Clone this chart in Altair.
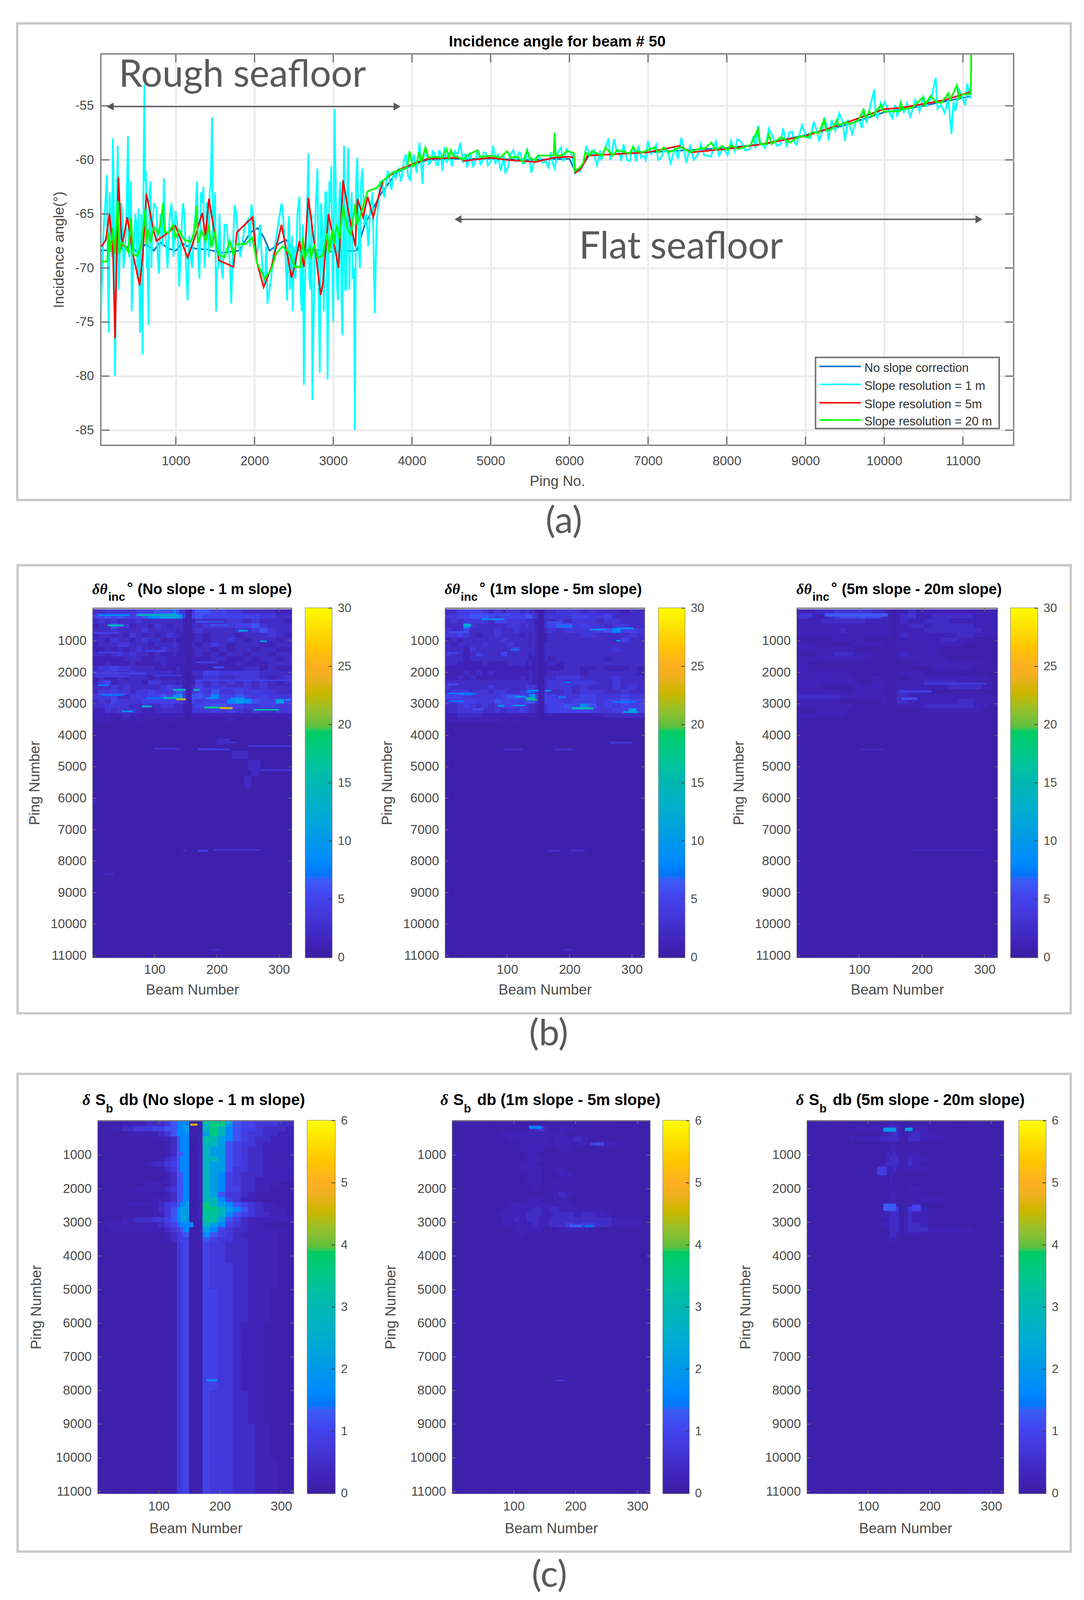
"""Slope correction comparison: incidence angle trace and difference maps."""

import altair as alt
import pandas as pd

FONT = "Liberation Sans"
NOTE_FONT = "Lato"
TEXT = "#4a4a4a"
NOTE = "#595959"
AXIS_LINE = "#6e6e6e"

# ---- panel (a): incidence angle
BLUE_PING = [50, 200, 270, 330, 350, 420, 500, 620, 720, 800, 900, 1000, 1080, 1150, 1250, 1400, 1600, 1800, 1950, 2040, 2120, 2190, 2320, 2400, 2500, 2700, 3000, 3300, 3400, 3600, 3800, 4000, 4200, 4600, 5000, 5500, 6000, 6070, 6150, 6250, 7000, 8000, 8500, 9000, 9500, 10000, 10500, 11100]
BLUE_VAL = [-68.4, -68.3, -67.6, -68.4, -68.3, -67.8, -68.5, -67.8, -68.4, -67.6, -68.2, -68.4, -67.7, -68, -68.2, -68.3, -68.6, -68.4, -66.7, -66.3, -67.2, -68.4, -67.7, -67.4, -68.4, -68.3, -68.5, -68.4, -66, -63.2, -61.2, -60.5, -60, -59.9, -59.9, -60, -59.9, -61, -60.7, -59.6, -59.3, -58.9, -58.5, -57.7, -56.8, -55.6, -55, -54.1]

CYAN_PING = [50, 85, 125, 148, 175, 200, 228, 245, 262, 290, 320, 350, 392, 415, 440, 470, 500, 525, 545, 577, 590, 602, 620, 640, 654, 680, 700, 753, 787, 820, 848, 870, 920, 995, 1043, 1075, 1110, 1150, 1190, 1230, 1270, 1300, 1340, 1350, 1380, 1405, 1430, 1460, 1485, 1511, 1540, 1570, 1620, 1670, 1704, 1747, 1790, 1850, 1920, 1960, 2000, 2045, 2100, 2130, 2164, 2210, 2260, 2343, 2380, 2414, 2440, 2465, 2485, 2520, 2570, 2600, 2627, 2655, 2684, 2710, 2735, 2770, 2800, 2829, 2860, 2900, 2928, 2950, 2975, 3000, 3016, 3040, 3061, 3090, 3115, 3138, 3165, 3190, 3220, 3250, 3275, 3306, 3340, 3370, 3420, 3470, 3527, 3578, 3620, 3692, 3741, 3768, 3795, 3862, 3924, 3978, 4024, 4096, 4134, 4171, 4212, 4266, 4306, 4346, 4387, 4414, 4508, 4548, 4616, 4702, 4737, 4777, 4831, 4871, 4912, 4965, 5033, 5060, 5127, 5167, 5186, 5221, 5288, 5356, 5409, 5463, 5517, 5571, 5665, 5738, 5786, 5813, 5894, 5921, 5961, 6015, 6069, 6136, 6176, 6217, 6257, 6311, 6351, 6392, 6405, 6499, 6540, 6567, 6634, 6661, 6688, 6769, 6809, 6849, 6876, 6943, 6997, 7037, 7105, 7126, 7199, 7288, 7422, 7487, 7535, 7616, 7670, 7713, 7800, 7861, 8009, 8055, 8135, 8237, 8340, 8363, 8397, 8443, 8534, 8636, 8716, 8762, 8830, 8887, 8956, 9013, 9104, 9172, 9236, 9293, 9332, 9428, 9503, 9537, 9594, 9719, 9742, 9776, 9874, 9913, 9959, 10004, 10102, 10164, 10210, 10330, 10392, 10449, 10495, 10654, 10677, 10768, 10814, 10855, 10905, 10951, 11030, 11053, 11099]
CYAN_VAL = [-74, -66, -61.4, -76, -66, -58, -80, -67, -58.7, -68, -65, -69, -57.8, -67, -74, -68, -66, -64.5, -76, -78, -61, -53, -61, -69, -75.3, -62, -66, -64.5, -70.5, -66, -61.7, -67, -65.5, -64.7, -71.7, -66, -65, -73, -69, -66.5, -62, -71, -64, -62.5, -68, -64, -63, -56.1, -66, -74, -70, -69.2, -66, -68, -73.3, -64.2, -67, -67.5, -65.5, -64.1, -66, -68, -70, -71.5, -73.3, -71, -68, -64, -67, -73, -65.2, -70, -74, -71, -63.4, -74, -80.8, -68, -59.4, -72, -82.2, -66, -60.8, -79.7, -66, -63, -80.3, -62, -60.6, -75, -55.3, -68, -73, -62, -76.2, -58.7, -72, -58.9, -65, -71, -85, -59.8, -70, -60.8, -65, -64.5, -74.2, -63.5, -62, -61, -62.75, -61, -61.7, -62, -59.5, -61.85, -59.5, -58.4, -62.2, -58.85, -60.4, -59.2, -60.4, -59.1, -61, -58.8, -60.6, -59.2, -58.4, -60.7, -59.3, -60.6, -59.2, -60.4, -59.3, -60.5, -58.7, -60.4, -61, -59.6, -61.25, -60.65, -59.1, -59.3, -60.35, -59.1, -61.2, -59.8, -60.3, -60.8, -60.2, -60.8, -58.85, -60.05, -59, -59.3, -61.25, -61.1, -60.3, -58.7, -59.6, -59, -60.5, -59.1, -60.05, -58, -59.45, -58.1, -59.3, -60.1, -58.55, -60.1, -58.8, -60.15, -58.65, -59.6, -58.25, -59.45, -58.6, -60, -59.1, -60.3, -57.95, -60.3, -58.6, -59.7, -58.55, -59.55, -59.7, -58.3, -59.55, -58.25, -58.1, -59.15, -57.8, -58.95, -56.85, -58.55, -57.1, -58.7, -57.1, -58.85, -57.4, -58.6, -56.8, -57.9, -56.55, -58.2, -56.1, -58.2, -56.3, -55.7, -58.25, -56.3, -57.6, -57.05, -55.3, -56.6, -53.5, -56.1, -54.75, -54.65, -56.15, -56, -54.65, -56, -54.45, -55.5, -54.15, -52.4, -55.25, -55.65, -54.4, -57.6, -55.5, -53.5, -54.95, -52.95, -54.35]
# the smaller swings that fill the cyan band between the big spikes
CYAN_FILL_PING = [70, 105, 135, 160, 190, 215, 275, 305, 335, 370, 405, 430, 455, 485, 515, 560, 610, 630, 665, 690, 725, 770, 805, 835, 860, 895, 945, 970, 1020, 1060, 1090, 1130, 1170, 1210, 1250, 1285, 1320, 1365, 1395, 1420, 1445, 1470, 1500, 1525, 1555, 1595, 1645, 1690, 1725, 1770, 1820, 1880, 1940, 1980, 2020, 2070, 2115, 2150, 2190, 2235, 2300, 2360, 2400, 2430, 2450, 2475, 2500, 2545, 2585, 2615, 2640, 2670, 2695, 2725, 2755, 2785, 2815, 2845, 2880, 2915, 2940, 2965, 2990, 3030, 3050, 3075, 3105, 3130, 3150, 3180, 3205, 3235, 3262, 3290, 3325, 3355, 3395, 3445, 3500, 3550, 3600, 3650, 3830, 3900, 3950, 4000, 4060, 4150, 4240, 4290, 4330, 4370, 4440, 4470, 4580, 4650, 4680, 4800, 4850, 4890, 4940, 5000, 5090, 5150, 5250, 5320, 5380, 5440, 5490, 5540, 5610, 5700, 5760, 5850, 5940, 5990, 6040, 6100, 6290, 6330, 6450, 6520, 6600, 6730, 6790, 6910, 6970, 7070, 7160, 7250, 7340, 7380, 7460, 7580, 7650, 7740, 7830, 7900, 7960, 8100, 8180, 8290, 8420, 8490, 8580, 8680, 8790, 8860, 8990, 9060, 9140, 9200, 9270, 9380, 9470, 9650, 9690, 9830, 9890, 9980, 10050, 10140, 10250, 10290, 10360, 10420, 10540, 10600, 10720, 10880]
CYAN_FILL_VAL = [-69, -64, -70, -63, -69, -65, -72, -64, -70, -66, -69, -62, -70, -65, -71, -65, -62, -70, -63, -70, -64, -69, -65, -68, -66, -70, -64, -69, -66, -69, -64, -70, -67, -70, -65, -69, -63, -70, -64, -69, -62, -68, -63, -70, -65, -71, -66, -70, -68, -65, -69, -66, -68, -65, -69, -66, -71, -68, -72, -69, -66, -65, -70, -66, -72, -67, -68, -65, -72, -66, -72, -64, -71, -65, -73, -63, -72, -64, -74, -63, -72, -64, -71, -62, -72, -64, -73, -63, -72, -62, -72, -63, -70, -62, -68, -62, -66, -68, -63, -66, -62, -63.5, -60.9, -60, -61.5, -60.3, -61.2, -59.6, -60.2, -59.4, -60.5, -59.5, -60.3, -59.3, -59.5, -60.3, -59.4, -60.3, -59.5, -60.2, -59.4, -60.2, -59.4, -60.3, -59.5, -60.2, -59.4, -60.3, -59.5, -60.5, -59.7, -60.1, -59.3, -59.4, -60, -59.2, -59.7, -61, -59.4, -60, -59, -60, -59.1, -60, -59.2, -59.8, -60, -59.2, -59.9, -59.3, -58.9, -59.9, -59.2, -60, -59.2, -59.6, -58.9, -59.6, -58.9, -59.2, -58.3, -59, -58.2, -58.9, -57.8, -58.6, -57.5, -58.4, -57.4, -58, -57.2, -57.8, -56.8, -57.3, -56.4, -56.2, -56.5, -54.8, -55.7, -55.2, -55.3, -54.9, -55.6, -54.8, -55.4, -54.8, -55, -54.2, -54.9, -54.6]

RED_PING = [57, 110, 157, 200, 228, 270, 315, 384, 455, 540, 582, 625, 710, 753, 910, 995, 1150, 1250, 1335, 1377, 1420, 1520, 1548, 1733, 1775, 1974, 2031, 2116, 2215, 2343, 2471, 2514, 2570, 2627, 2684, 2798, 2840, 2869, 2940, 3068, 3124, 3195, 3280, 3309, 3380, 3437, 3508, 3578, 3635, 3806, 4000, 4200, 4600, 4660, 5000, 5200, 5400, 5570, 5800, 6000, 6060, 6074, 6136, 6180, 6230, 6500, 7000, 7400, 7550, 8000, 8397, 9000, 9500, 10000, 10200, 10600, 10800, 11100]
RED_VAL = [-68, -67.4, -65, -68.2, -76.5, -61.6, -68, -65.3, -68.7, -71.6, -68.7, -63.1, -66.3, -67.5, -66.7, -66.1, -69.05, -67, -64.9, -67, -63.6, -68, -69.3, -69.9, -66.7, -65.3, -69.5, -71.8, -69.9, -66, -70.9, -69.7, -67.5, -69.9, -63.5, -69.9, -72.5, -71.4, -65, -70, -61.9, -64.9, -68, -63.6, -65.3, -63.4, -65.3, -63.3, -61.9, -61, -60.4, -59.9, -59.8, -60.1, -59.8, -60, -60.1, -60.2, -59.8, -59.7, -59.8, -61.2, -60.9, -60.4, -59.6, -59.5, -59.3, -58.7, -59.3, -59, -58.6, -57.8, -56.6, -55.3, -55.2, -54.7, -54.4, -53.7]

GREEN_PING = [57, 128, 150, 171, 200, 225, 262, 284, 310, 350, 395, 420, 432, 455, 511, 555, 590, 611, 625, 650, 680, 720, 775, 810, 838, 855, 910, 965, 995, 1040, 1108, 1190, 1240, 1264, 1280, 1330, 1380, 1420, 1450, 1500, 1520, 1545, 1619, 1685, 1735, 1765, 1880, 1974, 2030, 2130, 2215, 2272, 2357, 2440, 2514, 2585, 2612, 2640, 2700, 2720, 2760, 2800, 2870, 2920, 2950, 2985, 3010, 3040, 3080, 3124, 3180, 3225, 3280, 3300, 3350, 3437, 3550, 3606, 3749, 3862, 3940, 3970, 4010, 4060, 4091, 4118, 4171, 4212, 4300, 4380, 4440, 4470, 4494, 4530, 4575, 4656, 4700, 4831, 4871, 5000, 5060, 5120, 5208, 5250, 5340, 5409, 5463, 5490, 5571, 5598, 5700, 5800, 5813, 5826, 5900, 5975, 6055, 6074, 6136, 6176, 6203, 6257, 6284, 6419, 6459, 6553, 6608, 6769, 6809, 6849, 6930, 7078, 7132, 7199, 7266, 7414, 7535, 7670, 7713, 7804, 7861, 7941, 8009, 8055, 8146, 8306, 8397, 8420, 8500, 8534, 8568, 8625, 8693, 8807, 8876, 8956, 9035, 9081, 9172, 9236, 9263, 9343, 9400, 9423, 9514, 9571, 9674, 9738, 9765, 9811, 9845, 9959, 9993, 10085, 10198, 10210, 10244, 10358, 10495, 10517, 10590, 10654, 10723, 10814, 10837, 10923, 10951, 10996, 11088, 11100, 11106]
GREEN_VAL = [-69.4, -69.4, -66.8, -68.5, -66.3, -68.7, -63.8, -68.7, -67.6, -68, -68.5, -66.5, -65.4, -68.7, -68.9, -68, -66.2, -64.6, -67.8, -66.5, -67.6, -66.2, -66.8, -65.8, -64, -66.7, -66.7, -66, -67.2, -66.5, -67.4, -67.6, -66.5, -64.3, -67.7, -66.6, -67.5, -66, -68.1, -66.6, -68, -68.8, -69, -67.5, -68.8, -67.8, -67.8, -67.2, -69.5, -71, -70.1, -68.7, -68, -68.6, -69.9, -69.9, -67.2, -69.1, -68.1, -69.1, -67.8, -69.1, -68.8, -66.8, -68.6, -66.5, -67.8, -66, -67.3, -64.3, -66.4, -66.9, -64.1, -66, -65, -62.9, -62.6, -62.1, -61.2, -60.9, -60.7, -59.2, -60.6, -60.3, -59.3, -60.2, -58.85, -59.8, -59.7, -59.8, -59, -59.8, -59.1, -59.7, -59.7, -60, -59.6, -59.1, -59.75, -59.6, -59.7, -59.8, -59.2, -59.8, -59.7, -60.2, -59.1, -59.8, -60.05, -59.6, -59.6, -59.6, -57.5, -59.6, -59.6, -59.2, -59.35, -61, -60.7, -60.3, -59.3, -59.6, -59.2, -59.6, -58.85, -59.6, -59.1, -59.4, -58.8, -59.2, -59.3, -58.85, -59.3, -58.85, -59.3, -58.8, -59.3, -58.9, -59, -58.4, -59.1, -58.7, -59.1, -58.65, -59, -58.6, -57.15, -58.55, -58.55, -57.65, -58.55, -58.25, -57.9, -58.4, -58, -57.8, -57.9, -57.45, -57.5, -56.3, -57.3, -57.1, -56.3, -56.8, -56.5, -56.7, -56.3, -55.35, -56.1, -55.5, -56, -54.9, -55.55, -55.5, -55.5, -54.75, -55.35, -55.15, -54.2, -54.9, -54.1, -54.6, -54.75, -53.85, -54.45, -53.1, -54.35, -53.95, -53.9, -53.9, -50.25]

PING_TICKS = [1000, 2000, 3000, 4000, 5000, 6000, 7000, 8000, 9000, 10000, 11000]
ANGLE_TICKS = [-55, -60, -65, -70, -75, -80, -85]
LEGEND_LABELS = ["No slope correction", "Slope resolution = 1 m", "Slope resolution = 5m", "Slope resolution = 20 m"]
LEGEND_COLORS = ["#0072BD", "#00FFFF", "#FF0000", "#00FF00"]

# ---- panels (b) and (c): difference maps, coarse reading of the picture.
# Each character is one cell, its code indexes CELL_LEVELS (deg scale, dB is 1/5 of it).
ROW_PINGS = [0, 150, 300, 450, 600, 750, 900, 1050, 1200, 1350, 1500, 1650, 1800, 1950, 2100, 2250, 2400, 2550, 2700, 2850, 3000, 3150, 3300, 3450, 3600, 4200, 5000, 6000, 7000, 8000, 9000, 10000, 11060]
B_BEAM_EDGES = [1, 10, 20, 30, 40, 50, 60, 70, 80, 90, 100, 110, 120, 130, 135, 140, 145, 150, 155, 160, 165, 178, 191, 204, 217, 230, 243, 256, 269, 282, 295, 308, 320]
C_BEAM_EDGES = [1, 10, 20, 30, 40, 50, 60, 70, 80, 90, 100, 110, 120, 130, 135, 140, 145, 150, 157, 165, 172, 184, 197, 209, 221, 234, 246, 258, 271, 283, 295, 308, 320]
CELL_LEVELS = [0.4, 1.0, 2.2, 3.5, 4.6, 6, 8, 10.5, 14, 18, 21, 25]
EMPTY_ROWS = ["0" * 32] * 8

B1_ROWS = [
    "22333334445556533103554433222211", "44545444566777764104544444443322", "23232223222222221001222233232221",
    "12253312213212221002233334453222", "22232222322222121002322223235322", "12212132121232211001212221222321",
    "22132212322112111001212232122212", "12223322212223211002123212221122", "11212123221322211001221212212211",
    "22123232212112111001212122122122", "11111222112211111001112211212212", "11211121111211111001111112111222",
    "23343322221111211001111111221211", "32332232222221211002244333332222", "12112122212111111001233223332123",
    "13412222133222121001323232323212", "22232322222343331012423322323222", "23343323343334553013435334343322",
    "33342234344546674115546445434333", "23243333444444332104344467654474", "22333322322332221003445544334433",
    "11323232112222221003334343232233", "11111211111111111001111111111111", "01100101010010000000000010000000",
] + EMPTY_ROWS
B2_ROWS = [
    "22334432323323221002233323222122", "33445554344445532003333443342222", "23233332443332221002232333233222",
    "22263222223323221003455343323322", "32242222322322221002323333456443", "33432122322212121001222233222232",
    "12122222232222121001222222222422", "21222232223222121002222222222222", "22213222222422221002222222223222",
    "32212322242222121002222222222222", "22212222222222111002122222212222", "22111121112221211001212222222222",
    "11111111111111111001112211211121", "11121212111111211001222212222221", "11212111111121211002233322223222",
    "22222222222222211002332333223222", "32222223222223332012333232223232", "23332332332233342013223233322322",
    "44433333345544674014433344333433", "33444333544445553104443444344544", "22343232344333221003445465343444",
    "22333322323343221003444444334474", "11222211111111111001111111122222", "11111111100100000000000000000000",
] + EMPTY_ROWS
B3_ROWS = [
    "11122233333322211001121111111111", "23111234445444211001231122222111", "11112222222111111001211222111111",
    "11111111111111111001122122222111", "11111112111111111001111222222211", "11111111111111111001211111122111",
    "00000011111000000001111112211000", "11100000011111100001111111110000", "11111111100000100001111110000000",
    "00011122211100000001211110000000", "11111111111100000000111111000000", "11000000000000000000001111111100",
    "11000000000000000000000011111000", "11111111000000000000111000000000", "11111111100011000000011111111110",
    "11111111110011110001111222211000", "11110000011111100001111111222210", "11111111011111100002211000000000",
    "22222221111111110002211111111110", "11111110000000110002211111122111", "11111111100000000001111222222110",
    "00011111000000000000000111111100", "11111111000000000000000000000000", "00000000000000000000000000000000",
] + EMPTY_ROWS
C1_ROWS = [
    "00001111222356666000899754433322", "00112233344556677000898654432221", "00000111112356666100798654332211",
    "00000000011125666001887654322111", "00000000000125666001887543321111", "00000000000125666001877543221111",
    "00000000000125566001877543221111", "00000000001235666001887543221111", "00000000122345666001877543221111",
    "00000000001235666001877533221111", "00000000000125566001876432221111", "00000000000125566001876432211111",
    "00000000111125566001876432211100", "00000011111235566001876442211000", "00000000000125566001875332100000",
    "00000000011125566001886431100000", "00000111112345667001987654321100", "00000000012356777001998765321110",
    "00000000011356777001998654322110", "00001122233456777001987542111111", "01111111112345666601876432110000",
    "00111111111234566001764322111110", "00000000000123455000654321111100", "00000000000123444000543322111100",
    "00000000000003344000433222111100", "00000000000003344000433322111100", "00000000000003344000443322111000",
    "00000000000003344000443321110000", "00000000000003344000443321110000", "00000000000003344000433322110000",
    "00000000000003344000433322211000", "00000000000003344000433322211100",
]
C2_ROWS = [
    "00000000000000000000000000000000", "00000000000011233100110000000000", "00000000111111111111100000000000",
    "00000000011111111101112100000000", "00000000000111111111111112110000", "00000000000111111000110000000000",
    "00000000000011100000000000000000", "00000000000011111000000000000000", "00000000000111100000000000000000",
    "00000000000111110001100000000000", "00000000000011110000110000000000", "00000000000011110000000000000000",
    "00000000000001110001100000000000", "00000000000000100001000000000000", "00000000000000000001210000000000",
    "00000000000011110001100000000000", "00000000011111111111110000000000", "00000000111112221122111111000000",
    "00000001111122221112221221100000", "00000000112122211122222222211110", "00000000111112211122232332211110",
    "00000000001111110000111100000000", "00000000000100000000000000000000", "00000000000000000000000000000000",
] + EMPTY_ROWS
C3_ROWS = [
    "00000000000000111000000000000000", "00000000111112222102110000000000", "00000000000011222101211000000000",
    "00000001111122222102211100000000", "00000000000000110001000000000000", "00000000000000110000000000000000",
    "00000000000001121011100000000000", "00000000000001222012110000000000", "00000000000012222012100000000000",
    "00000000000001121011110000000000", "00000000000000110000000000000000", "00000000000000100000000000000000",
    "00000000000000100000000000000000", "00000000000000110001100000000000", "00000000000000110000000000000000",
    "00000000000000110000011100000000", "00000000000001111001100000000000", "00000000000012333013210000000000",
    "00000000000011222012110000000000", "00000000000001222012110000000000", "00000000000011222012210000000000",
    "00000000000000222012221111110000", "00000000000000221011100000000000", "00000000000000110000000000000000",
] + EMPTY_ROWS

# streaks: beam from, beam to, ping from, ping to, value in the panel's own unit
B1_STREAKS = [
    (10, 60, 150, 200, 8), (71, 133, 145, 200, 13), (25, 50, 480, 530, 14), (235, 250, 650, 700, 10), (270, 280, 990, 1030, 11),
    (166, 211, 370, 410, 6), (189, 217, 475, 515, 5.5), (3, 42, 730, 770, 5), (87, 116, 1300, 1340, 5), (9, 42, 1355, 1395, 4.5),
    (166, 200, 1660, 1700, 4.5), (194, 211, 1820, 1860, 6), (3, 87, 2000, 2060, 4.5), (3, 60, 2100, 2150, 4), (99, 144, 2080, 2120, 3.5),
    (166, 318, 2235, 2265, 5), (9, 26, 2390, 2430, 7), (166, 245, 2490, 2530, 4.5), (9, 54, 2670, 2710, 6), (87, 132, 2800, 2840, 7),
    (223, 245, 2800, 2840, 8), (183, 197, 2800, 2840, 9), (310, 318, 2855, 2895, 9), (48, 65, 3220, 3260, 9),
    (130, 150, 2530, 2580, 14), (163, 172, 2530, 2580, 14), (115, 135, 2790, 2840, 15), (135, 150, 2830, 2880, 22),
    (80, 95, 3060, 3100, 15), (180, 205, 3090, 3140, 17), (205, 225, 3110, 3160, 23), (260, 300, 3170, 3210, 16), (15, 50, 2710, 2740, 7),
    (100, 140, 4400, 4450, 3), (170, 220, 4420, 4470, 4), (250, 320, 4320, 4360, 4), (200, 230, 4200, 4250, 3), (200, 220, 4100, 4300, 2),
    (225, 250, 4500, 4750, 2), (250, 270, 4800, 5100, 2), (255, 268, 5100, 5300, 2), (245, 255, 5300, 5700, 2), (270, 320, 5080, 5130, 3),
    (170, 185, 7640, 7700, 4), (195, 270, 7620, 7660, 3), (145, 150, 7640, 7670, 3), (20, 35, 8380, 8440, 2), (0, 5, 6000, 6100, 2), (190, 205, 10790, 10850, 2),
]
B2_STREAKS = [
    (18, 45, 40, 80, 5), (53, 106, 140, 185, 5.5), (59, 94, 290, 330, 9), (164, 188, 390, 430, 6), (182, 205, 520, 560, 7),
    (232, 258, 620, 660, 9), (275, 302, 580, 620, 9), (7, 36, 700, 740, 6), (106, 118, 1255, 1295, 7), (275, 281, 970, 1010, 10),
    (4, 21, 1365, 1405, 5), (50, 62, 1430, 1470, 5), (191, 202, 2300, 2340, 7), (4, 21, 2360, 2400, 6), (132, 150, 2560, 2600, 8),
    (161, 170, 2560, 2600, 9), (4, 50, 2645, 2685, 7), (182, 194, 2770, 2810, 8), (7, 30, 2895, 2935, 7), (270, 305, 2920, 2960, 7),
    (109, 129, 3030, 3070, 9), (45, 62, 3150, 3190, 6),
    (112, 130, 2750, 2800, 9), (130, 145, 2800, 2880, 15), (140, 148, 2860, 2890, 19), (85, 95, 3040, 3080, 10),
    (204, 233, 3110, 3170, 14), (230, 238, 3130, 3170, 18), (286, 310, 3240, 3280, 11), (25, 45, 2690, 2720, 7), (130, 142, 2620, 2650, 7),
    (30, 42, 470, 530, 13), (95, 125, 4430, 4470, 3), (175, 205, 4430, 4470, 3), (265, 300, 4200, 4280, 3),
    (200, 225, 7640, 7680, 3), (165, 185, 7650, 7690, 3), (190, 205, 10790, 10850, 2),
]
B3_STREAKS = [
    (45, 145, 130, 220, 6.5), (5, 25, 130, 260, 3.5), (204, 303, 2330, 2390, 3.5), (165, 215, 2580, 2640, 4.5),
    (168, 192, 2800, 2870, 5.5), (185, 300, 7640, 7680, 2), (100, 140, 4430, 4470, 1.8),
]
C1_STREAKS = [(152, 163, 70, 120, 4.6), (178, 195, 7670, 7720, 1.8), (172, 200, 0, 60, 3.4), (172, 195, 2650, 3000, 3.3), (172, 190, 500, 620, 3.2)]
C2_STREAKS = [(125, 145, 130, 220, 1.5), (225, 245, 640, 700, 1.1), (190, 210, 3070, 3140, 1.3), (215, 228, 3080, 3140, 1.4), (168, 182, 7680, 7720, 0.7)]
C3_STREAKS = [(125, 145, 190, 300, 2), (160, 172, 190, 280, 2.1), (125, 145, 2450, 2650, 1.3), (172, 185, 2480, 2650, 1), (115, 130, 1350, 1600, 0.8)]

BEAM_TICKS = [100, 200, 300]
MAP_PING_TICKS = [1000, 2000, 3000, 4000, 5000, 6000, 7000, 8000, 9000, 10000, 11000]
B_BAR_TICKS = [0, 5, 10, 15, 20, 25, 30]
C_BAR_TICKS = [0, 1, 2, 3, 4, 5, 6]
COLOR_VALUES = [0, 1, 5, 6.6, 6.9, 8, 10, 13, 15, 17.5, 19.4, 19.7, 21, 22.5, 24, 25, 26.5, 28, 30]
COLOR_RANGE = ["#3c1fa4", "#3f22b6", "#4343ee", "#3c5cf5", "#0074f8", "#0088ff", "#0098e8", "#00b0c8", "#00b8b0", "#00c888", "#00cc60", "#5cc040", "#90c030", "#c8b800", "#f0b020", "#ffb020", "#ffc400", "#ffdc00", "#ffff00"]
COLOR_SCALE = alt.Scale(domain=COLOR_VALUES, range=COLOR_RANGE)


def blank():
    return alt.Chart(pd.DataFrame({"v": [0]}))


def spacer(width=1, height=1):
    return blank().mark_point(opacity=0).encode(x=alt.value(0), y=alt.value(0)).properties(
        width=width, height=height, view=alt.ViewConfig(stroke=None)
    )


def label(text, x, y, size, font=FONT, color="black", weight="normal", style="normal", align="left"):
    return blank().mark_text(
        text=text, x=x, y=y, fontSize=size, font=font, color=color, fontWeight=weight,
        fontStyle=style, align=align, baseline="middle",
    )


def box(x0, x1, y0, y1, stroke, width, fill=None):
    kwargs = {"fill": fill} if fill else {"fillOpacity": 0}
    return blank().mark_rect(stroke=stroke, strokeWidth=width, **kwargs).encode(
        x=alt.value(x0), x2=alt.value(x1), y=alt.value(y0), y2=alt.value(y1)
    )


def inner_ticks(x_vals, y_vals, x_enc, y_enc, width, height, length, stroke):
    """Inward ticks on all four sides; x_enc / y_enc build the shared position channels."""
    parts = []
    src = alt.Chart(pd.DataFrame({"tick": x_vals}))
    parts.append(src.mark_rule(color=AXIS_LINE, strokeWidth=stroke).encode(x=x_enc("tick:Q"), y=alt.value(0), y2=alt.value(length)))
    parts.append(src.mark_rule(color=AXIS_LINE, strokeWidth=stroke).encode(x=x_enc("tick:Q"), y=alt.value(height - length), y2=alt.value(height)))
    src = alt.Chart(pd.DataFrame({"tick": y_vals}))
    parts.append(src.mark_rule(color=AXIS_LINE, strokeWidth=stroke).encode(y=y_enc("tick:Q"), x=alt.value(0), x2=alt.value(length)))
    parts.append(src.mark_rule(color=AXIS_LINE, strokeWidth=stroke).encode(y=y_enc("tick:Q"), x=alt.value(width - length), x2=alt.value(width)))
    return parts


def make_trace():
    width, height = 2336, 1002
    x_scale = alt.Scale(domain=[47, 11645], nice=False, zero=False)
    y_scale = alt.Scale(domain=[-86.4, -50.2], nice=False, zero=False)
    x_ax = alt.Axis(values=PING_TICKS, format="d", ticks=False, domain=False, grid=True, gridColor="#ececec", gridWidth=5,
                    labelPadding=24, titlePadding=17, labelFontSize=33, titleFontSize=37)
    y_ax = alt.Axis(values=ANGLE_TICKS, labelExpr="datum.value + ''", ticks=False, domain=False, grid=True, gridColor="#ececec", gridWidth=5,
                    labelPadding=18, titlePadding=22, labelFontSize=33, titleFontSize=37)

    def x_enc(field):
        return alt.X(field, scale=x_scale, title="Ping No.", axis=x_ax)

    def y_enc(field):
        return alt.Y(field, scale=y_scale, title="Incidence angle(°)", axis=y_ax)

    def trace(pings, vals, color, stroke):
        return alt.Chart(pd.DataFrame({"ping": pings, "val": vals})).mark_line(color=color, strokeWidth=stroke, clip=True).encode(x=x_enc("ping:Q"), y=y_enc("val:Q"))

    cyan = sorted(zip(CYAN_PING + CYAN_FILL_PING, CYAN_VAL + CYAN_FILL_VAL))
    layers = [
        trace(BLUE_PING, BLUE_VAL, "#0072BD", 4),
        trace([p for p, _ in cyan], [v for _, v in cyan], "#00FFFF", 4.5),
        trace(RED_PING, RED_VAL, "#FF0000", 4),
        trace(GREEN_PING, GREEN_VAL, "#00FF00", 4.5),
    ]
    layers += inner_ticks(PING_TICKS, ANGLE_TICKS, x_enc, y_enc, width, height, 22, 3)

    # seafloor range arrows, ends in ping / angle units
    for x0, x1, y in [(166, 3811, -55.07), (4585, 11204, -65.5)]:
        src = alt.Chart(pd.DataFrame({"x": [x0], "x1": [x1], "y": [y]}))
        layers.append(src.mark_rule(color="#5a5a5a", strokeWidth=3.5).encode(x=x_enc("x:Q"), x2="x1:Q", y=y_enc("y:Q")))
        layers.append(src.mark_point(shape="triangle-left", filled=True, size=420, color="#5a5a5a", opacity=1).encode(x=x_enc("x:Q"), y=y_enc("y:Q")))
        layers.append(src.mark_point(shape="triangle-right", filled=True, size=420, color="#5a5a5a", opacity=1).encode(x=x_enc("x1:Q"), y=y_enc("y:Q")))
    layers.append(label("Rough seafloor", 46, 55, 96, NOTE_FONT, NOTE))
    layers.append(label("Flat seafloor", 1224, 495, 96, NOTE_FONT, NOTE))

    layers.append(label("Incidence angle for beam # 50", width / 2, -31, 39, weight="bold", align="center"))

    # legend box
    layers.append(box(1829, 2299, 777, 959, "#777777", 4, "white"))
    for i, (name, color) in enumerate(zip(LEGEND_LABELS, LEGEND_COLORS)):
        row_y = [800, 846, 893, 937][i]
        layers.append(blank().mark_rule(color=color, strokeWidth=4).encode(x=alt.value(1839), x2=alt.value(1945), y=alt.value(row_y), y2=alt.value(row_y)))
        layers.append(label(name, 1954, row_y + 5, 31, color="#303030"))

    # outer frame and caption
    layers.append(box(-214, 2482, -78, 1142, "#c9c9c9", 6))
    layers.append(label("(a)", 1185, 1198, 94, NOTE_FONT, NOTE, align="center"))
    return alt.layer(*layers).properties(width=width, height=height)


def make_map(rows, edges, streaks, unit, y_domain, width, height, title_parts, label_pad, x_title_pad, y_title_pad, extra=None):
    """One difference map; unit converts the panel's values to the shared colour scale."""
    x_scale = alt.Scale(domain=[1, 320], nice=False, zero=False)
    y_scale = alt.Scale(domain=y_domain, nice=False, zero=False)
    x_ax = alt.Axis(values=BEAM_TICKS, ticks=False, domain=False, grid=False, labelPadding=label_pad, titlePadding=x_title_pad, labelFontSize=33, titleFontSize=37)
    y_ax = alt.Axis(values=MAP_PING_TICKS, format="d", ticks=False, domain=False, grid=False, labelPadding=17, titlePadding=y_title_pad, labelFontSize=33, titleFontSize=37)

    def x_enc(field):
        return alt.X(field, scale=x_scale, title="Beam Number", axis=x_ax)

    def y_enc(field):
        return alt.Y(field, scale=y_scale, title="Ping Number", axis=y_ax)

    cells = []
    for r, row in enumerate(rows):
        for c, ch in enumerate(row):
            cells.append({
                "b0": edges[c], "b1": edges[c + 1],
                "p0": ROW_PINGS[r], "p1": ROW_PINGS[r + 1],
                "v": CELL_LEVELS[int(ch, 36)],
            })
    for b0, b1, p0, p1, v in streaks:
        cells.append({"b0": max(b0, 1), "b1": b1, "p0": p0, "p1": p1, "v": v * unit})

    rects = alt.Chart(pd.DataFrame(cells)).mark_rect(strokeWidth=1).encode(
        x=x_enc("b0:Q"), x2="b1:Q", y=y_enc("p0:Q"), y2="p1:Q",
        fill=alt.Fill("v:Q", scale=COLOR_SCALE, legend=None),
        stroke=alt.Stroke("v:Q", scale=COLOR_SCALE, legend=None),
    )
    layers = [rects] + inner_ticks(BEAM_TICKS, MAP_PING_TICKS, x_enc, y_enc, width, height, 8, 2)
    layers += title_parts
    if extra:
        layers += extra
    return alt.layer(*layers).properties(width=width, height=height)


def make_bar(ticks, top, unit, width, height):
    y_scale = alt.Scale(domain=[0, top], nice=False, zero=False)
    y_ax = alt.Axis(orient="right", values=ticks, ticks=False, domain=False, grid=False, labelPadding=15, labelFontSize=31)
    levels = pd.DataFrame({
        "lo": [i * 0.25 / unit for i in range(120)],
        "hi": [(i + 1) * 0.25 / unit for i in range(120)],
        "v": [i * 0.25 for i in range(120)],
    })
    rects = alt.Chart(levels).mark_rect(strokeWidth=1).encode(
        x=alt.value(0), x2=alt.value(width),
        y=alt.Y("lo:Q", scale=y_scale, title=None, axis=y_ax),
        y2="hi:Q",
        fill=alt.Fill("v:Q", scale=COLOR_SCALE, legend=None),
        stroke=alt.Stroke("v:Q", scale=COLOR_SCALE, legend=None),
    )
    marks = alt.Chart(pd.DataFrame({"y": ticks})).mark_rule(color="#404040", strokeWidth=2).encode(
        y=alt.Y("y:Q", scale=y_scale, title=None, axis=y_ax), x=alt.value(width - 8), x2=alt.value(width)
    )
    return alt.layer(rects, marks).properties(width=width, height=height)


def theta_title(rest):
    return [
        label("δθ", -2, -47, 38, font="Liberation Serif", style="italic", weight="bold"),
        label("inc", 39, -28, 30, weight="bold"),
        label("°", 87, -50, 38, weight="bold"),
        label(rest, 114, -47, 38, weight="bold"),
    ]


def sb_title(dx, rest):
    return [
        label("δ", dx, -52, 40, font="Liberation Serif", style="italic", weight="bold"),
        label("S", dx + 33, -52, 40, weight="bold"),
        label("b", dx + 60, -30, 30, weight="bold"),
        label(rest, dx + 94, -52, 40, weight="bold"),
    ]


def make_row(maps, bars, map_xs, map_ws, bar_xs, bar_ws, origin):
    items = []
    if map_xs[0] > origin:
        items.append(spacer(map_xs[0] - origin))
    for i in range(3):
        items.append(maps[i])
        items.append(spacer(bar_xs[i] - map_xs[i] - map_ws[i]))
        items.append(bars[i])
        if i < 2:
            items.append(spacer(map_xs[i + 1] - bar_xs[i] - bar_ws[i]))
    return alt.hconcat(*items, spacing=0, bounds="flush")


ORIGIN = 236

# row (b)
B_MAP_X, B_MAP_W = [236, 1138, 2038], [508, 509, 512]
B_BAR_X, B_BAR_W = [780, 1684, 2585], [67, 66, 68]
B_H = 894
B_Y = [-40, 11060]
b_frame = [
    box(43 - 236, 2738 - 236, 1447 - 1557, 2594 - 1557, "#c9c9c9", 6),
    label("(b)", 1402 - 236, 2648 - 1557, 94, NOTE_FONT, NOTE, align="center"),
]
b_maps = [
    make_map(B1_ROWS, B_BEAM_EDGES, B1_STREAKS, 1, B_Y[::-1], B_MAP_W[0], B_H, theta_title("(No slope - 1 m slope)"), 15, 17, 21, b_frame),
    make_map(B2_ROWS, B_BEAM_EDGES, B2_STREAKS, 1, B_Y[::-1], B_MAP_W[1], B_H, theta_title("(1m slope - 5m slope)"), 15, 17, 21),
    make_map(B3_ROWS, B_BEAM_EDGES, B3_STREAKS, 1, B_Y[::-1], B_MAP_W[2], B_H, theta_title("(5m slope - 20m slope)"), 15, 17, 21),
]
b_bars = [make_bar(B_BAR_TICKS, 30, 1, w, B_H) for w in B_BAR_W]
row_b = make_row(b_maps, b_bars, B_MAP_X, B_MAP_W, B_BAR_X, B_BAR_W, ORIGIN)

# row (c)
C_MAP_X, C_MAP_W = [249, 1156, 2064], [500, 505, 502]
C_BAR_X, C_BAR_W = [785, 1695, 2606], [70, 66, 68]
C_H = 954
C_Y = [-22, 11058]
c_frame = [
    box(43 - 249, 2738 - 249, 2749 - 2869, 3972 - 2869, "#c9c9c9", 6),
    label("(c)", 1404 - 249, 4034 - 2869, 94, NOTE_FONT, NOTE, align="center"),
]
c_maps = [
    make_map(C1_ROWS, C_BEAM_EDGES, C1_STREAKS, 5, C_Y[::-1], C_MAP_W[0], C_H, sb_title(-40, "db (No slope - 1 m slope)"), 17, 22, 30, c_frame),
    make_map(C2_ROWS, C_BEAM_EDGES, C2_STREAKS, 5, C_Y[::-1], C_MAP_W[1], C_H, sb_title(-31, "db (1m slope - 5m slope)"), 17, 22, 30),
    make_map(C3_ROWS, C_BEAM_EDGES, C3_STREAKS, 5, C_Y[::-1], C_MAP_W[2], C_H, sb_title(-29, "db (5m slope - 20m slope)"), 17, 22, 30),
]
c_bars = [make_bar(C_BAR_TICKS, 6, 5, w, C_H) for w in C_BAR_W]
row_c = make_row(c_maps, c_bars, C_MAP_X, C_MAP_W, C_BAR_X, C_BAR_W, ORIGIN)

row_a = alt.hconcat(spacer(256 - ORIGIN), make_trace(), spacing=0, bounds="flush")

chart = (
    alt.vconcat(row_a, spacer(height=1557 - 138), row_b, spacer(height=2869 - 1557), row_c, spacing=0, bounds="flush")
    .properties(padding={"left": 31, "top": 47, "right": 10, "bottom": 10}, background="white")
    .configure_view(stroke=AXIS_LINE, strokeWidth=3)
    .configure_axis(labelFont=FONT, titleFont=FONT, labelColor=TEXT, titleColor=TEXT, titleFontWeight="normal")
    .configure_text(font=FONT)
)

chart.save("out.html", embed_options={"renderer": "svg", "actions": False})
